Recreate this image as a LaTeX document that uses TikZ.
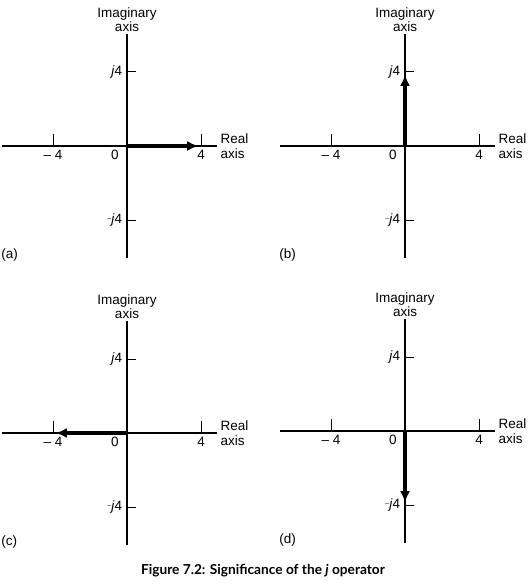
\documentclass[tikz,border=0pt]{standalone}
\usepackage{fontspec}
\setmainfont{Liberation Sans}
\newfontfamily\capfont{Lato}
\usetikzlibrary{arrows.meta, positioning}

\begin{document}
\begin{tikzpicture}[x=1pt, y=-1pt,
axis/.style={draw, line width=1.4pt},
tick/.style={draw, line width=1pt},
vec/.style={draw, line width=3.8pt, -{Latex[length=11pt, width=10pt]}},
lbl/.style={font=\fontsize{13.5}{14.5}\selectfont, inner sep=1pt},
axislbl/.style={lbl, align=left},
caption/.style={font=\capfont\bfseries\fontsize{13.7}{15}\selectfont}
]
\useasboundingbox (0,0) rectangle (527,585);

\foreach \p/\ox/\oy/\vx/\vy in {a/127/146/3.85/0, b/405/146/0/3.85,
  c/127/433/-3.85/0, d/405/431/0/-3.85} {
\begin{scope}[shift={(\ox,\oy)}, x=18.5pt, y=18.5pt]
\coordinate (o-\p) at (0,0);
\coordinate (w-\p) at (-6.75,0);
\coordinate (e-\p) at (4.85,0);
\coordinate (n-\p) at (0,6.05);
\coordinate (s-\p) at (0,-6.05);
\coordinate (tip-\p) at (\vx,\vy);

% axes and ticks
\path[axis] (w-\p) -- (e-\p);
\path[axis] (s-\p) -- (n-\p);
\path[tick] (-4,0) -- (-4,0.65);
\path[tick] (4,0) -- (4,0.65);
\path[tick] (0,4) -- (0.5,4);
\path[tick] (0,-4) -- (0.5,-4);

\node[lbl] (xm4-\p) at (-4,-0.5) {\textendash\ 4};
\node[lbl] (zero-\p) at (-0.65,-0.5) {0};
\node[lbl] (x4-\p) at (4,-0.5) {4};
\node[lbl, anchor=east] (y4-\p) at (-0.2,4) {\textit{j}4};
\node[lbl, anchor=east] (ym4-\p) at (-0.2,-4)
  {\raisebox{0.45ex}{\scriptsize\textendash}\textit{j}4};
\node[axislbl, anchor=west] (re-\p) at (5.0,0) {Real\\axis};
\node[lbl, align=center, anchor=south] (im-\p) at (0,6.1) {Imaginary\\axis};
\node[lbl, anchor=west] (tag-\p) at (-6.85,-5.9) {(\p)};

% the vector
\path[vec] (o-\p) -- (tip-\p);
\end{scope}
}

\node[caption] (cap) at (263,571) {Figure 7.2: Significance of the \textit{j} operator};
\end{tikzpicture}
\end{document}
